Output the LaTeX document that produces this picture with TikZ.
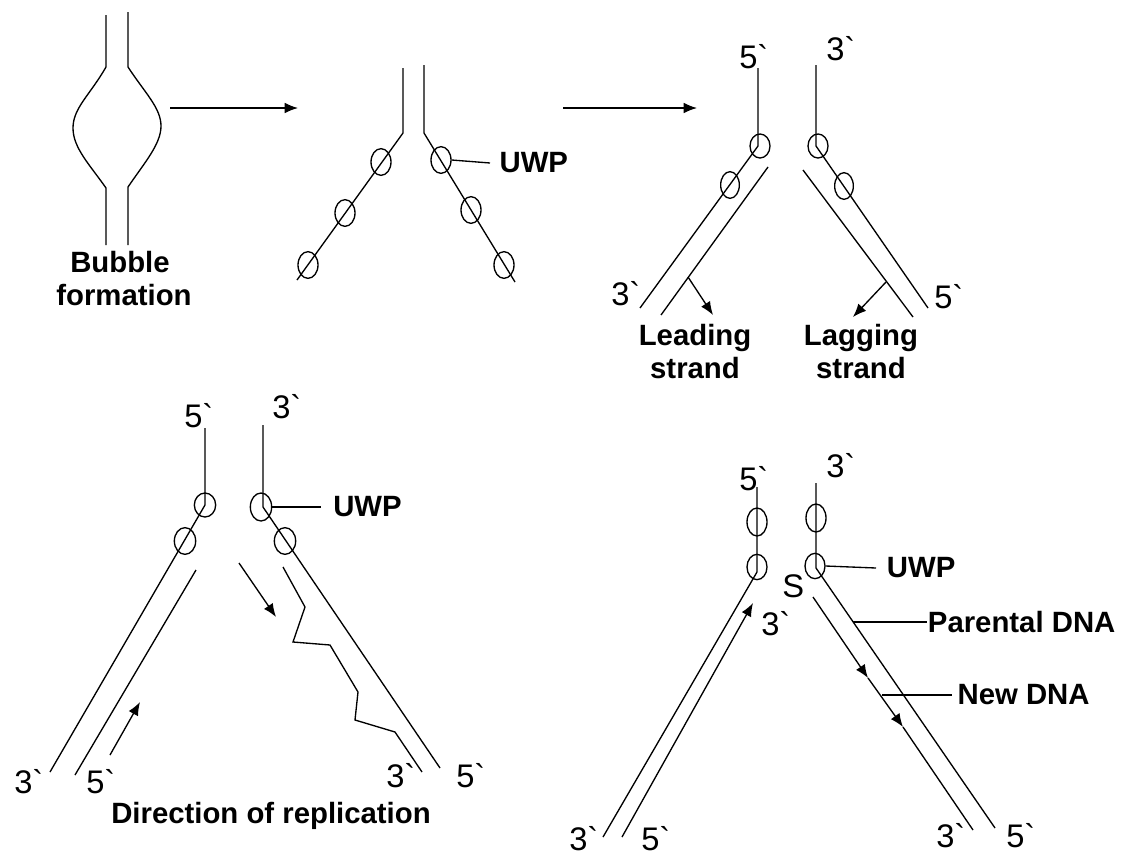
\documentclass[tikz,border=0pt]{standalone}
\usepackage{fontspec}
\setmainfont{Liberation Sans}
\newfontfamily\thinf{Liberation Sans}[Ligatures=TeXOff]
\usetikzlibrary{arrows.meta,shapes.geometric}
\newcommand{\grv}{\char"60\relax}
\begin{document}
\begin{tikzpicture}[x=0.75pt,y=-0.75pt,
  ln/.style={line width=1pt},
  ell/.style={ellipse,draw,line width=1pt,inner sep=0pt},
  tip/.style={-{Latex[length=10pt,width=8pt]}},
  lab/.style={font=\thinf\fontsize{24.5}{26}\selectfont,inner sep=0pt,anchor=base west},
  bl/.style={font=\bfseries\fontsize{22}{24}\selectfont,inner sep=0pt,anchor=base},
  lead/.style={font=\bfseries\fontsize{22}{24}\selectfont,inner ysep=0pt,anchor=west}
]
\useasboundingbox (0,0) rectangle (1123,857);

% ---------- bubble ----------
\coordinate (bl1) at (106,15); \coordinate (bl2) at (106,67);
\coordinate (bl3) at (106,188); \coordinate (bl4) at (106,245);
\coordinate (br1) at (128,12); \coordinate (br2) at (128,67);
\coordinate (br3) at (128,187); \coordinate (br4) at (128,245);
\draw[ln] (bl1) -- (bl2) .. controls (90,95) and (73,108) .. (73,128)
  .. controls (73,148) and (90,165) .. (bl3) -- (bl4);
\draw[ln] (br1) -- (br2) .. controls (145,93) and (161,108) .. (161,126)
  .. controls (161,144) and (145,162) .. (br3) -- (br4);
\node[bl] (tb1) at (120,272) {Bubble};
\node[bl] (tb2) at (124,305) {formation};

\coordinate (a1s) at (170,108); \coordinate (a1e) at (298,108);
\draw[ln,tip] (a1s) -- (a1e);

% ---------- unwinding ----------
\coordinate (ml1) at (403,68); \coordinate (ml2) at (403,133); \coordinate (ml3) at (297,280);
\coordinate (mr1) at (424,65); \coordinate (mr2) at (424,133); \coordinate (mr3) at (515,282);
\draw[ln] (ml1) -- (ml2) -- (ml3);
\draw[ln] (mr1) -- (mr2) -- (mr3);
\node[ell,minimum width=15pt,minimum height=20pt] (m1) at (381,162) {};
\node[ell,minimum width=15pt,minimum height=20pt] (m2) at (345,213) {};
\node[ell,minimum width=15pt,minimum height=20pt] (m3) at (308,265) {};
\node[ell,minimum width=15pt,minimum height=20pt] (m4) at (441,160) {};
\node[ell,minimum width=15pt,minimum height=20pt] (m5) at (471,210) {};
\node[ell,minimum width=15pt,minimum height=20pt] (m6) at (504,265) {};
\node[lead,inner xsep=7pt] (u1) at (490,163) {UWP};
\draw[ln] (m4.east) -- (u1.west);

\coordinate (a2s) at (563,108); \coordinate (a2e) at (697,108);
\draw[ln,tip] (a2s) -- (a2e);

% ---------- leading / lagging ----------
\coordinate (rl1) at (758,68); \coordinate (rl2) at (758,146); \coordinate (rl3) at (640,308);
\coordinate (ri1) at (768,167); \coordinate (ri2) at (661,315);
\coordinate (rr1) at (816,65); \coordinate (rr2) at (816,146); \coordinate (rr3) at (928,308);
\coordinate (rj1) at (803,170); \coordinate (rj2) at (913,317);
\draw[ln] (rl1) -- (rl2) -- (rl3);
\draw[ln] (ri1) -- (ri2);
\draw[ln] (rr1) -- (rr2) -- (rr3);
\draw[ln] (rj1) -- (rj2);
\node[ell,minimum width=15pt,minimum height=18pt] (r1) at (760,146) {};
\node[ell,minimum width=14pt,minimum height=20pt] (r2) at (730,185) {};
\node[ell,minimum width=15pt,minimum height=18pt] (r3) at (818,146) {};
\node[ell,minimum width=14pt,minimum height=20pt] (r4) at (844,186) {};
\coordinate (la1) at (688,277); \coordinate (la2) at (713,315);
\coordinate (lg1) at (886,282); \coordinate (lg2) at (853,317);
\draw[ln,tip] (la1) -- (la2);
\draw[ln,tip] (lg1) -- (lg2);
\node[lab] (n1) at (739,68) {5\grv};
\node[lab] (n2) at (826,60) {3\grv};
\node[lab] (n3) at (611,305) {3\grv};
\node[lab] (n4) at (934,308) {5\grv};
\node[bl] (tl1) at (695,345) {Leading};
\node[bl] (tl2) at (695,378) {strand};
\node[bl] (tg1) at (861,345) {Lagging};
\node[bl] (tg2) at (861,378) {strand};

% ---------- direction of replication ----------
\coordinate (ql1) at (205,428); \coordinate (ql2) at (205,505); \coordinate (ql3) at (50,772);
\coordinate (qi1) at (196,570); \coordinate (qi2) at (75,775);
\coordinate (qr1) at (263,425); \coordinate (qr2) at (263,507); \coordinate (qr3) at (440,768);
\draw[ln] (ql1) -- (ql2) -- (ql3);
\draw[ln] (qi1) -- (qi2);
\draw[ln] (qr1) -- (qr2) -- (qr3);
\node[ell,minimum width=16pt,minimum height=18pt] (q1) at (205,505) {};
\node[ell,minimum width=16pt,minimum height=20pt] (q2) at (185,541) {};
\node[ell,minimum width=16pt,minimum height=21pt] (q3) at (261,507) {};
\node[ell,minimum width=16pt,minimum height=20pt] (q4) at (285,541) {};
\coordinate (z1) at (283,567); \coordinate (z2) at (305,607); \coordinate (z3) at (293,642);
\coordinate (z4) at (330,645); \coordinate (z5) at (358,692); \coordinate (z6) at (355,720);
\coordinate (z7) at (395,732); \coordinate (z8) at (422,772);
\draw[ln] (z1) -- (z2) -- (z3) -- (z4) -- (z5) -- (z6) -- (z7) -- (z8);
\coordinate (da1) at (110,755); \coordinate (da2) at (140,702);
\coordinate (db1) at (239,563); \coordinate (db2) at (276,617);
\draw[ln,tip] (da1) -- (da2);
\draw[ln,tip] (db1) -- (db2);
\node[lead,inner xsep=9pt] (u2) at (321,507) {UWP};
\draw[ln] (q3.east) -- (u2.west);
\node[lab] (p1) at (184,427) {5\grv};
\node[lab] (p2) at (272,418) {3\grv};
\node[lab] (p3) at (14,793) {3\grv};
\node[lab] (p4) at (86,793) {5\grv};
\node[lab] (p5) at (386,787) {3\grv};
\node[lab] (p6) at (456,787) {5\grv};
\node[bl] (td) at (271,823) {Direction of replication};

% ---------- parental / new DNA ----------
\coordinate (sl1) at (757,487); \coordinate (sl2) at (757,572); \coordinate (sl3) at (603,837);
\coordinate (si1) at (622,837); \coordinate (si2) at (753,603);
\coordinate (sr1) at (816,483); \coordinate (sr2) at (816,568); \coordinate (sr3) at (995,828);
\coordinate (sj1) at (813,597); \coordinate (sj2) at (868,678); \coordinate (sj3) at (903,727); \coordinate (sj4) at (973,830);
\draw[ln] (sl1) -- (sl2) -- (sl3);
\draw[ln,tip] (si1) -- (si2);
\draw[ln] (sr1) -- (sr2) -- (sr3);
\draw[ln,tip] (sj1) -- (sj2);
\draw[ln,tip] (sj2) -- (sj3);
\draw[ln] (sj3) -- (sj4);
\node[ell,minimum width=15pt,minimum height=21pt] (s1) at (757,522) {};
\node[ell,minimum width=15pt,minimum height=19pt] (s2) at (757,567) {};
\node[ell,minimum width=15pt,minimum height=21pt] (s3) at (816,518) {};
\node[ell,minimum width=15pt,minimum height=19pt] (s4) at (815,566) {};
\node[lead,inner xsep=8pt] (u3) at (876,568) {UWP};
\draw[ln] (s4.east) -- (u3.west);
\coordinate (pd) at (853,622);
\node[lead,inner xsep=0.5pt] (tpd) at (927,622) {Parental DNA};
\draw[ln] (pd) -- (tpd.west);
\coordinate (nd) at (882,695);
\node[lead,inner xsep=4pt] (tnd) at (952,695) {New DNA};
\draw[ln] (nd) -- (tnd.west);
\node[lab] (o1) at (739,490) {5\grv};
\node[lab] (o2) at (826,477) {3\grv};
\node[lab] (o3) at (782,597) {S};
\node[lab] (o4) at (761,635) {3\grv};
\node[lab] (o5) at (569,850) {3\grv};
\node[lab] (o6) at (641,850) {5\grv};
\node[lab] (o7) at (936,847) {3\grv};
\node[lab] (o8) at (1006,847) {5\grv};
\end{tikzpicture}
\end{document}
